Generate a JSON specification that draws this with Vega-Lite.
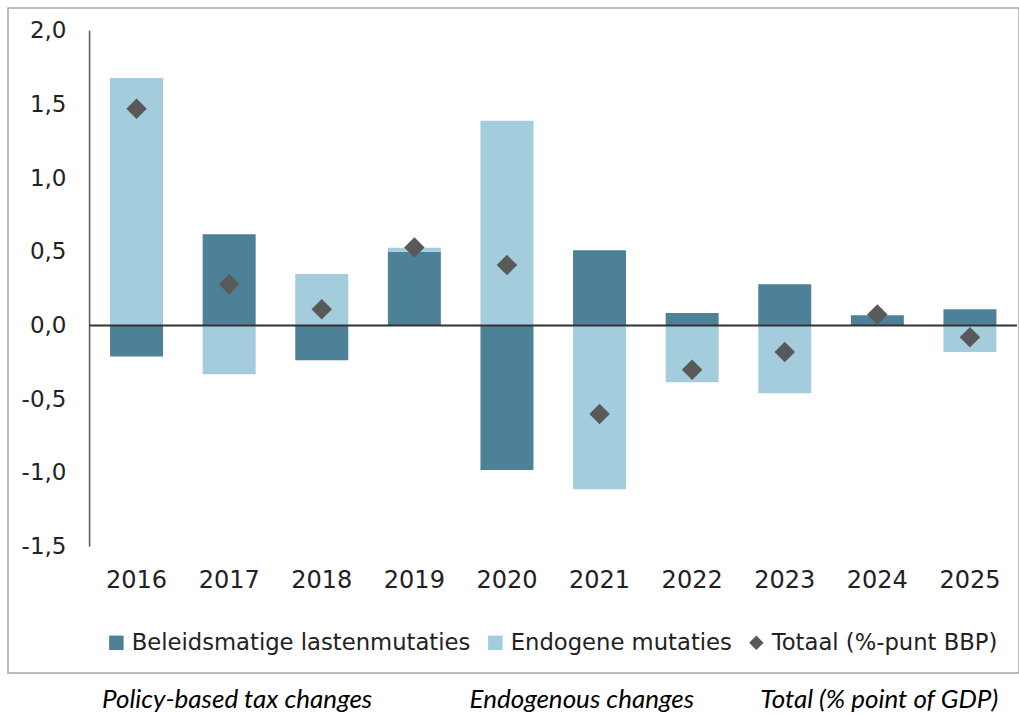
{
  "$schema": "https://vega.github.io/schema/vega-lite/v6.json",
  "width": 1011,
  "height": 665,
  "padding": {"left": 8, "top": 8, "right": 0, "bottom": 0},
  "background": "white",
  "title": {
    "text": "Policy-based tax changes\u00a0\u00a0\u00a0\u00a0\u00a0\u00a0\u00a0\u00a0\u00a0\u00a0\u00a0\u00a0\u00a0\u00a0\u00a0\u00a0Endogenous changes\u00a0\u00a0\u00a0\u00a0\u00a0\u00a0\u00a0\u00a0\u00a0\u00a0\u00a0Total (% point of GDP)",
    "orient": "bottom",
    "anchor": "start",
    "frame": "group",
    "dx": 94,
    "offset": 14,
    "font": "Lato",
    "fontSize": 26,
    "fontStyle": "italic",
    "fontWeight": "normal",
    "color": "#000000"
  },
  "config": {
    "view": {"stroke": "#a6a6a6", "strokeWidth": 1.5},
    "legend": {
      "orient": "none",
      "legendX": 97,
      "legendY": 623,
      "direction": "horizontal",
      "labelFont": "DejaVu Sans",
      "labelFontSize": 22.7,
      "labelColor": "#222222",
      "symbolSize": 210,
      "labelOffset": 4,
      "columnPadding": 13,
      "padding": 0,
      "symbolStrokeWidth": 0,
      "symbolOpacity": 1,
      "labelLimit": 500
    }
  },
  "data": {
    "values": [
      {"year": "2016", "series": "Beleidsmatige lastenmutaties", "value": -0.21},
      {"year": "2016", "series": "Endogene mutaties", "value": 1.68},
      {"year": "2016", "series": "Totaal (%-punt BBP)", "value": 1.47},
      {"year": "2017", "series": "Beleidsmatige lastenmutaties", "value": 0.62},
      {"year": "2017", "series": "Endogene mutaties", "value": -0.33},
      {"year": "2017", "series": "Totaal (%-punt BBP)", "value": 0.28},
      {"year": "2018", "series": "Beleidsmatige lastenmutaties", "value": -0.235},
      {"year": "2018", "series": "Endogene mutaties", "value": 0.35},
      {"year": "2018", "series": "Totaal (%-punt BBP)", "value": 0.11},
      {"year": "2019", "series": "Beleidsmatige lastenmutaties", "value": 0.5},
      {"year": "2019", "series": "Endogene mutaties", "value": 0.027},
      {"year": "2019", "series": "Totaal (%-punt BBP)", "value": 0.53},
      {"year": "2020", "series": "Beleidsmatige lastenmutaties", "value": -0.98},
      {"year": "2020", "series": "Endogene mutaties", "value": 1.39},
      {"year": "2020", "series": "Totaal (%-punt BBP)", "value": 0.41},
      {"year": "2021", "series": "Beleidsmatige lastenmutaties", "value": 0.51},
      {"year": "2021", "series": "Endogene mutaties", "value": -1.11},
      {"year": "2021", "series": "Totaal (%-punt BBP)", "value": -0.6},
      {"year": "2022", "series": "Beleidsmatige lastenmutaties", "value": 0.085},
      {"year": "2022", "series": "Endogene mutaties", "value": -0.385},
      {"year": "2022", "series": "Totaal (%-punt BBP)", "value": -0.3},
      {"year": "2023", "series": "Beleidsmatige lastenmutaties", "value": 0.28},
      {"year": "2023", "series": "Endogene mutaties", "value": -0.46},
      {"year": "2023", "series": "Totaal (%-punt BBP)", "value": -0.18},
      {"year": "2024", "series": "Beleidsmatige lastenmutaties", "value": 0.07},
      {"year": "2024", "series": "Endogene mutaties", "value": 0.0},
      {"year": "2024", "series": "Totaal (%-punt BBP)", "value": 0.075},
      {"year": "2025", "series": "Beleidsmatige lastenmutaties", "value": 0.11},
      {"year": "2025", "series": "Endogene mutaties", "value": -0.18},
      {"year": "2025", "series": "Totaal (%-punt BBP)", "value": -0.08}
    ]
  },
  "layer": [
    {
      "transform": [{"filter": "datum.series !== 'Totaal (%-punt BBP)'"}],
      "mark": {"type": "bar"},
      "encoding": {
        "x": {
          "field": "year",
          "type": "nominal",
          "scale": {
            "domain": ["2016", "2017", "2018", "2019", "2020", "2021", "2022", "2023", "2024", "2025"],
            "paddingInner": 0.4276,
            "paddingOuter": 0.673,
            "align": 0.819,
            "round": false
          },
          "axis": {
            "orient": "bottom",
            "offset": -105,
            "domain": false,
            "ticks": false,
            "labelPadding": 0,
            "title": null,
            "labelAngle": 0,
            "labelFont": "DejaVu Sans",
            "labelFontSize": 24,
            "labelColor": "#222222"
          }
        },
        "y": {
          "field": "value",
          "type": "quantitative",
          "stack": "zero",
          "scale": {"domain": [-2.357, 2.154], "nice": false, "zero": false},
          "axis": {
            "values": [-1.5, -1, -0.5, 0, 0.5, 1, 1.5, 2],
            "labelExpr": "replace(replace(format(datum.value, '.1f'), '.', ','), '\u2212', '-')",
            "offset": -58,
            "domain": false,
            "ticks": false,
            "grid": false,
            "labelPadding": 0,
            "title": null,
            "labelFont": "DejaVu Sans",
            "labelFontSize": 23,
            "labelColor": "#222222",
            "labelOverlap": false
          }
        },
        "order": {"field": "series", "type": "nominal", "sort": "ascending"},
        "color": {
          "field": "series",
          "type": "nominal",
          "scale": {
            "domain": ["Beleidsmatige lastenmutaties", "Endogene mutaties", "Totaal (%-punt BBP)"],
            "range": ["#4c8197", "#a3cddc", "#595959"]
          },
          "legend": {"title": null}
        }
      }
    },
    {
      "data": {"values": [{}]},
      "mark": {"type": "rule", "color": "#555555", "strokeWidth": 1.5},
      "encoding": {
        "x": {"datum": "2016", "type": "nominal", "bandPosition": -0.387},
        "y": {"datum": -1.5, "type": "quantitative"},
        "y2": {"datum": 2.0}
      }
    },
    {
      "data": {"values": [{}]},
      "mark": {"type": "rule", "color": "#333333", "strokeWidth": 2},
      "encoding": {
        "x": {"datum": "2016", "type": "nominal", "bandPosition": -0.387},
        "x2": {"datum": "2025", "bandPosition": 1.387},
        "y": {"datum": 0, "type": "quantitative"}
      }
    },
    {
      "transform": [{"filter": "datum.series === 'Totaal (%-punt BBP)'"}],
      "mark": {"type": "point", "filled": true, "opacity": 1, "size": 420},
      "encoding": {
        "x": {"field": "year", "type": "nominal"},
        "y": {"field": "value", "type": "quantitative"},
        "color": {"field": "series", "type": "nominal", "legend": {"title": null}},
        "shape": {
          "field": "series",
          "type": "nominal",
          "scale": {
            "domain": ["Beleidsmatige lastenmutaties", "Endogene mutaties", "Totaal (%-punt BBP)"],
            "range": ["square", "square", "diamond"]
          },
          "legend": {"title": null}
        }
      }
    }
  ]
}
